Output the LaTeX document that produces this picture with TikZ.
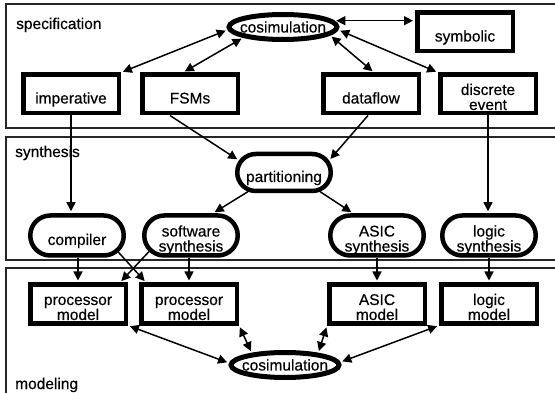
\documentclass[tikz,border=0pt]{standalone}
\usepackage{fontspec}
\setmainfont[FakeBold=0.4]{Liberation Sans}
\usetikzlibrary{shapes.geometric,shapes.misc,arrows.meta,calc}
\newcommand\tA[1]{\raisebox{-9.5pt}[0pt][0pt]{\makebox[0pt]{#1}}}
\newcommand\tE[1]{\raisebox{-5.5pt}[0pt][0pt]{\makebox[0pt]{#1}}}
\newcommand\tB[2]{\raisebox{-1pt}[0pt][0pt]{\makebox[0pt]{\vtop{\baselineskip=15pt\halign{\hfil##\hfil\cr#1\cr#2\cr}}}}}
\begin{document}
\begin{tikzpicture}[x=1pt,y=-1pt,
  font=\fontsize{15.5}{15}\selectfont,
  box/.style={draw, rectangle, line width=4.5pt, minimum width=95.5pt, minimum height=38.5pt, inner sep=0pt},
  pill/.style={draw, rounded rectangle, line width=4.5pt, minimum width=93.5pt, minimum height=40pt, inner sep=0pt},
  oval/.style={draw, ellipse, line width=5pt, minimum width=108pt, minimum height=25pt, inner sep=0pt},
  panel/.style={draw=black!85, line width=1.2pt},
  lab/.style={anchor=base west, inner sep=0pt},
  arr/.style={-{Triangle[length=9pt,width=9pt]}, line width=1.5pt, shorten >=2pt},
  darr/.style={{Triangle[length=9pt,width=9pt]}-{Triangle[length=9pt,width=9pt]}, line width=1.5pt, shorten >=2pt, shorten <=2pt}]
\useasboundingbox (0,0) rectangle (555,393);
\clip (0,0) rectangle (555,393);
\fill[white] (0,0) rectangle (555,393);
% panels
\draw[panel] (6,4) rectangle (575,128);
\draw[panel] (6,137) rectangle (575,260);
\draw[panel] (6,268) rectangle (575,410);
\node[lab] (lspec) at (16,29) {specification};
\node[lab] (lsyn) at (15,157) {synthesis};
\node[lab] (lmod) at (15,389) {modeling};
% nodes
\node[oval] (cosT) at (283,27) {\tE{cosimulation}};
\node[box] (sym) at (465,32) {\tA{symbolic}};
\node[box] (imp) at (71,94) {\tA{imperative}};
\node[box] (fsm) at (190,94) {\tA{FSMs}};
\node[box] (df) at (371,94) {\tA{dataflow}};
\node[box] (de) at (488,94) {\tB{discrete}{event}};
\node[pill, minimum height=37pt] (part) at (284,172.5) {\tA{partitioning}};
\node[pill] (comp) at (77,235.5) {\tA{compiler}};
\node[pill] (sws) at (191,235.5) {\tB{software}{synthesis}};
\node[pill] (asy) at (377,235.5) {\tB{ASIC}{synthesis}};
\node[pill] (lsy) at (489,235.5) {\tB{logic}{synthesis}};
\node[box] (pm1) at (78,304) {\tB{processor}{model}};
\node[box] (pm2) at (189,304) {\tB{processor}{model}};
\node[box] (am) at (377,304) {\tB{ASIC}{model}};
\node[box] (lm) at (489,304) {\tB{logic}{model}};
\node[oval] (cosB) at (285,365) {\tE{cosimulation}};
% specification edges
\draw[darr] (cosT.183) -- (imp.north east);
\draw[darr] (cosT.195) -- ($(fsm.north)+(-7,0)$);
\draw[darr] (cosT.350) -- ($(df.north)+(3,0)$);
\draw[darr] (cosT.357) -- (de.north west);
\draw[darr] (cosT.7) -- (cosT.7 -| sym.west);
% to synthesis
\draw[arr] (imp.south) -- (imp.south |- comp.north);
\draw[arr] ($(fsm.south)+(-20,0)$) -- (part.165);
\draw[arr] ($(df.south)+(-3,0)$) -- (part.15);
\draw[arr] (de.south) -- (de.south |- lsy.north);
\draw[arr] (part.208) -- ($(sws.north)+(22,0)$);
\draw[arr] (part.332) -- ($(asy.north)+(-24,0)$);
% to modeling
\draw[arr] (comp.south -| pm1.north) -- (pm1.north);
\draw[arr] (comp.338) -- ($(pm2.north west)+(7,0)$);
\draw[arr] (sws.201) -- ($(pm1.north east)+(-8,0)$);
\draw[arr] (sws.south -| pm2.north) -- (pm2.north);
\draw[arr] (asy.south) -- (am.north);
\draw[arr] (lsy.south) -- (lm.north);
% modeling cosim
\draw[darr] (pm1.south east) -- (cosB.178);
\draw[darr] (pm2.south east) -- (cosB.160);
\draw[darr] (am.south west) -- (cosB.20);
\draw[darr] (lm.south west) -- (cosB.3);
\end{tikzpicture}
\end{document}
